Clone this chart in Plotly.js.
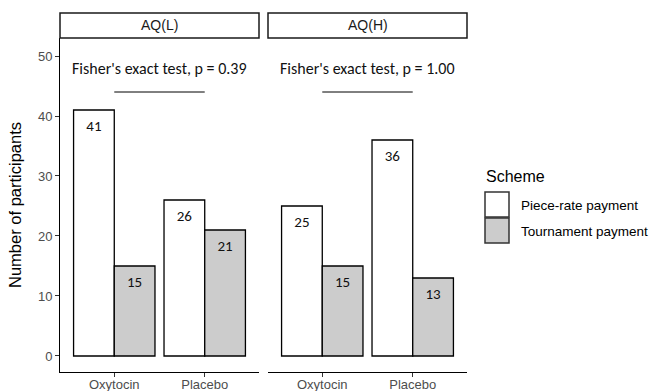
<!DOCTYPE html>
<html>
<head>
<meta charset="utf-8">
<script src="https://cdn.plot.ly/plotly-3.0.1.min.js"></script>
<style>html,body{margin:0;padding:0;background:#fff;}#chart{width:650px;height:391px;}</style>
</head>
<body>
<div id="chart"></div>
<script>
// ---- data ----
const categories = ['Oxytocin', 'Placebo'];
const panels = ['AQ(L)', 'AQ(H)'];
const schemes = ['Piece-rate payment', 'Tournament payment'];
const pieceRateL = [41, 26];
const tournamentL = [15, 21];
const pieceRateH = [25, 36];
const tournamentH = [15, 13];
const fisherLabels = ["Fisher's exact test, p = 0.39", "Fisher's exact test, p = 1.00"];
const fisherTextY = 48;
const fisherLineY = 44;
const yTicks = [0, 10, 20, 30, 40, 50];

// ---- styling ----
const schemeColors = ['#FFFFFF', '#CCCCCC'];
const numFont = {family: 'Calibri, Carlito, Lato, sans-serif', size: 15, color: '#111'};
const fisherFont = {family: 'Calibri, Carlito, Lato, sans-serif', size: 16, color: '#111'};
const axisFont = {family: 'Arial, Liberation Sans, sans-serif', size: 13, color: '#4D4D4D'};
const barW = 0.45;
const labelDrop = 2.9;

const idx = categories.map((c, i) => i);
const panelData = [[pieceRateL, tournamentL], [pieceRateH, tournamentH]];
const traces = [];
panelData.forEach((series, p) => {
  const xa = p === 0 ? 'x' : 'x2';
  series.forEach((vals, s) => {
    traces.push({
      type: 'bar', x: idx, y: vals, xaxis: xa, yaxis: 'y',
      width: barW, offset: s === 0 ? -barW : 0,
      marker: {color: schemeColors[s], line: {color: '#000', width: 1.3}},
      name: schemes[s], showlegend: false, hoverinfo: 'none'
    });
    traces.push({
      type: 'scatter', mode: 'text', xaxis: xa, yaxis: 'y',
      x: idx.map(i => i + (s === 0 ? -barW / 2 : barW / 2)),
      y: vals.map(v => v - labelDrop),
      text: vals.map(String), textfont: numFont,
      showlegend: false, hoverinfo: 'none'
    });
  });
});

// paper coordinate helpers (plot area: x 60..467, y 38..372)
const L = 60, R = 467, T = 38, B = 372;
const px = v => (v - L) / (R - L);
const py = v => (B - v) / (B - T);

const xCommon = {
  type: 'linear', range: [-0.6, 1.6], tickvals: idx, ticktext: categories,
  showline: true, linecolor: '#000', linewidth: 1, ticks: 'outside', ticklen: 4,
  tickcolor: '#333', tickfont: axisFont, ticklabelstandoff: -4,
  showgrid: false, zeroline: false, fixedrange: true
};

const shapes = [];
const annotations = [];
const stripX = [[L, 259], [268, R]];
panels.forEach((name, p) => {
  shapes.push({type: 'rect', xref: 'paper', yref: 'paper',
    x0: px(stripX[p][0]), x1: px(stripX[p][1]), y0: py(38), y1: py(13),
    line: {color: '#1A1A1A', width: 1.5}, fillcolor: '#FFFFFF'});
  annotations.push({xref: 'paper', yref: 'paper', x: (px(stripX[p][0]) + px(stripX[p][1])) / 2,
    y: py(25.5), text: name, showarrow: false, xanchor: 'center', yanchor: 'middle',
    font: {family: 'Arial, Liberation Sans, sans-serif', size: 14, color: '#1A1A1A'}});
  const xr = p === 0 ? 'x' : 'x2';
  annotations.push({xref: xr, yref: 'y', x: 0.5, y: fisherTextY, text: fisherLabels[p],
    showarrow: false, xanchor: 'center', yanchor: 'middle', font: fisherFont});
  shapes.push({type: 'line', xref: xr, yref: 'y', x0: 0, x1: 1, y0: fisherLineY, y1: fisherLineY,
    line: {color: '#000', width: 1}});
});

// legend (drawn manually)
annotations.push({xref: 'paper', yref: 'paper', x: px(484), y: py(176), text: 'Scheme',
  showarrow: false, xanchor: 'left', yanchor: 'middle',
  font: {family: 'Arial, Liberation Sans, sans-serif', size: 16, color: '#000'}});
const keyTop = [192, 218];
schemes.forEach((s, i) => {
  shapes.push({type: 'rect', xref: 'paper', yref: 'paper',
    x0: px(485), x1: px(509), y0: py(keyTop[i] + 25), y1: py(keyTop[i]),
    fillcolor: schemeColors[i], line: {color: '#333', width: 1.5}});
  annotations.push({xref: 'paper', yref: 'paper', x: px(519), y: py(keyTop[i] + 13),
    text: s, showarrow: false, xanchor: 'left', yanchor: 'middle',
    font: {family: 'Arial, Liberation Sans, sans-serif', size: 13.5, color: '#000'}});
});

const layout = {
  width: 650, height: 391,
  margin: {l: L, r: 650 - R, t: T, b: 391 - B, pad: 0},
  paper_bgcolor: '#FFFFFF', plot_bgcolor: '#FFFFFF',
  showlegend: false, barmode: 'overlay',
  xaxis: Object.assign({}, xCommon, {domain: [0, px(259)], anchor: 'y'}),
  xaxis2: Object.assign({}, xCommon, {domain: [px(268), 1], anchor: 'y'}),
  yaxis: {
    range: [-2.67, 53], tickvals: yTicks, ticktext: yTicks.map(String),
    showline: true, linecolor: '#000', linewidth: 1, ticks: 'outside', ticklen: 4, tickcolor: '#333',
    tickfont: axisFont, showgrid: false, zeroline: false, anchor: 'x', fixedrange: true,
    title: {text: 'Number of participants', standoff: 12,
      font: {family: 'Arial, Liberation Sans, sans-serif', size: 16.5, color: '#000'}}
  },
  shapes: shapes, annotations: annotations
};

Plotly.newPlot('chart', traces, layout, {displayModeBar: false, staticPlot: true});
</script>
</body>
</html>
